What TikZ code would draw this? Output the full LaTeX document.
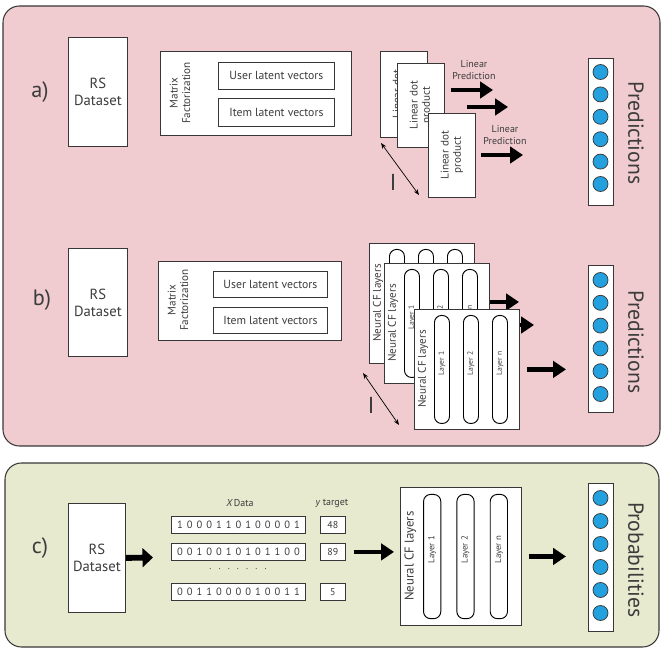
\documentclass[tikz,border=0pt]{standalone}
\usepackage{fontspec}
\setmainfont{PT Sans}
\newfontfamily\barfont{Liberation Sans}
\usetikzlibrary{arrows.meta, calc}

\definecolor{pinkbg}{RGB}{240,203,207}
\definecolor{greenbg}{RGB}{232,234,207}
\definecolor{linec}{RGB}{55,55,55}
\definecolor{textc}{RGB}{60,60,60}
\definecolor{dotc}{RGB}{35,160,222}
\newcommand{\pxu}{0.03cm}

\tikzset{
  panel/.style={draw=linec, line width=0.9pt, rounded corners=14pt},
  box/.style={draw=linec, fill=white, line width=0.7pt, inner sep=0pt, anchor=north west, text=textc, align=center},
  pill/.style={draw=black, fill=white, line width=0.8pt, rounded corners=6pt, inner sep=0pt, anchor=north west},
  dot/.style={circle, draw=linec, fill=dotc, line width=0.6pt, minimum size=15*\pxu, inner sep=0pt},
  bigarrow/.style={line width=3.8pt, -{Triangle[length=11pt, width=14pt]}},
  fatarrow/.style={line width=5pt, -{Triangle[length=9pt, width=16pt]}},
  twoway/.style={line width=0.6pt, {Stealth[length=5pt]}-{Stealth[length=5pt]}},
  partlabel/.style={font=\fontsize{19}{19}\selectfont, text=textc},
  vtext/.style={rotate=90, align=center, text=textc},
  outlabel/.style={rotate=-90, font=\fontsize{18.5}{18.5}\selectfont, text=textc},
  smalltext/.style={font=\fontsize{8.5}{9.5}\selectfont, text=textc, align=center},
  lenlabel/.style={font=\barfont\fontsize{19}{19}\selectfont, text=textc},
}

% neural CF card: name, x, y, size factor
\newcommand{\ncfcard}[4]{%
  \begin{scope}[shift={(#2,#3)}, scale=#4, transform shape]
    \node[box, minimum width=105*\pxu, minimum height=120*\pxu] (#1) at (0,0) {};
    \node[vtext, font=\fontsize{9.5}{9.5}\selectfont] at (9,60) {Neural CF layers};
    \foreach \k/\off/\t in {1/20/1, 2/49/2, 3/78/n} {
      \node[pill, minimum width=15*\pxu, minimum height=108*\pxu] (#1-p\k) at (\off,6) {};
      \node[vtext, font=\fontsize{6.5}{6.5}\selectfont] at ($(#1-p\k)+(0,-6)$) {Layer \t};
    }
  \end{scope}}

\begin{document}
\begin{tikzpicture}[x=\pxu, y=-\pxu]
\useasboundingbox (0,0) rectangle (662,648);

% panels
\draw[panel, fill=pinkbg] (3,6) rectangle (660,446);
\draw[panel, fill=greenbg] (5,463) rectangle (659,647);

%% a)
\node[partlabel] (la) at (40,92) {a)};
\node[box, minimum width=59*\pxu, minimum height=109*\pxu, font=\fontsize{12.5}{14.5}\selectfont] (rsa) at (68,37) {RS\\Dataset};
\node[box, minimum width=191*\pxu, minimum height=84*\pxu] (mfa) at (160,51) {};
\node[vtext, font=\fontsize{9.5}{10.5}\selectfont] at (180,93) {Matrix\\Factorization};
\node[box, minimum width=116*\pxu, minimum height=27*\pxu, font=\fontsize{10}{10}\selectfont] (usera) at (218,62) {User latent vectors};
\node[box, minimum width=116*\pxu, minimum height=28*\pxu, font=\fontsize{10}{10}\selectfont] (itema) at (218,98) {Item latent vectors};

\node[box, minimum width=47*\pxu, minimum height=86*\pxu] (lin1) at (380,51) {};
\node[vtext, font=\fontsize{9.5}{10.5}\selectfont] at (lin1) {Linear dot\\product};
\node[box, minimum width=47*\pxu, minimum height=84*\pxu] (lin2) at (397,63) {};
\node[vtext, font=\fontsize{9.5}{10.5}\selectfont] at (lin2) {Linear dot\\product};
\node[box, minimum width=47*\pxu, minimum height=84*\pxu] (lin3) at (428,113) {};
\node[vtext, font=\fontsize{9.5}{10.5}\selectfont] at (lin3) {Linear dot\\product};

\coordinate (pa1) at (493,90);
\coordinate (pa2) at (508,107);
\coordinate (pa3) at (523,155);
\draw[bigarrow, shorten <=0.18cm] (pa1 -| lin2.east) -- (pa1);
\draw[bigarrow, shorten <=0.66cm] (pa2 -| lin2.east) -- (pa2);
\draw[bigarrow, shorten <=0.15cm] (pa3 -| lin3.east) -- (pa3);
\node[smalltext] at (474,70) {Linear\\Prediction};
\node[smalltext] at (505,135) {Linear\\Prediction};

\coordinate (da1) at (381,143);
\coordinate (da2) at (419,195);
\draw[twoway] (da1) -- (da2);
\node[lenlabel] at (393,182) {l};

\node[box, minimum width=25*\pxu, minimum height=147*\pxu] (preda) at (588,58) {};
\foreach \i in {0,...,5}
  \node[dot] (pa-\i) at (600.5, 72+22.4*\i) {};
\node[outlabel] at (636,133) {Predictions};

%% b)
\node[partlabel] (lb) at (42,300) {b)};
\node[box, minimum width=59*\pxu, minimum height=108*\pxu, font=\fontsize{12.5}{14.5}\selectfont] (rsb) at (68,248) {RS\\Dataset};
\node[box, minimum width=183*\pxu, minimum height=79*\pxu] (mfb) at (158,261) {};
\node[vtext, font=\fontsize{9.5}{10.5}\selectfont] at (178,300) {Matrix\\Factorization};
\node[box, minimum width=114*\pxu, minimum height=26*\pxu, font=\fontsize{10}{10}\selectfont] (userb) at (213,271) {User latent vectors};
\node[box, minimum width=114*\pxu, minimum height=26*\pxu, font=\fontsize{10}{10}\selectfont] (itemb) at (213,307) {Item latent vectors};

\ncfcard{nb1}{369}{243}{1}
\ncfcard{nb2}{384}{263}{1}
\coordinate (pb1) at (519,302);
\draw[bigarrow] (pb1 -| nb2.east) -- (pb1);
\coordinate (pb2) at (534,325);
\draw[bigarrow] (pb2 -| nb2.east) -- (pb2);
\ncfcard{nb3}{414}{309}{1}

\node[box, minimum width=25*\pxu, minimum height=147*\pxu] (predb) at (588,265) {};
\draw[bigarrow, shorten <=0.21cm, shorten >=0.66cm] (nb3.east) -- (nb3.east -| predb.west);

\coordinate (db1) at (363,373);
\coordinate (db2) at (399,425);
\draw[twoway] (db1) -- (db2);
\node[lenlabel] at (371,405) {l};

\foreach \i in {0,...,5}
  \node[dot] (pb-\i) at (600.5, 280+22.8*\i) {};
\node[outlabel] at (636,342) {Predictions};

%% c)
\node[partlabel] (lc) at (40,548) {c)};
\node[box, minimum width=57*\pxu, minimum height=109*\pxu, font=\fontsize{12.5}{14.5}\selectfont] (rsc) at (68,503) {RS\\Dataset};
\coordinate (cin) at (153,557.5);
\draw[fatarrow] (rsc.east) -- (cin);

\node[smalltext] at (240,503) {\itshape X\upshape\,Data};
\node[smalltext] at (332,503) {\itshape y\upshape\ target};
\foreach \r/\y/\bits/\val in {1/516/1000110100001/48, 2/543/0010010101100/89, 3/583/0011000010011/5} {
  \node[box, minimum width=134*\pxu, minimum height=17*\pxu, font=\fontsize{9}{9}\selectfont\addfontfeature{LetterSpace=38}] (data\r) at (171,\y) {\bits};
  \node[box, minimum width=25*\pxu, minimum height=17*\pxu, font=\fontsize{8.5}{9}\selectfont] (tgt\r) at (320,\y) {\val};
}
\node[smalltext, font=\fontsize{8}{8}\selectfont\addfontfeature{LetterSpace=70}] at (238,569) {.......};

\ncfcard{ncfc}{400}{487}{1.15}
\draw[bigarrow, shorten <=0.24cm, shorten >=0.18cm] (tgt2.east) -- (tgt2.east -| ncfc.west);

\node[box, minimum width=25*\pxu, minimum height=148*\pxu] (probc) at (588,483) {};
\draw[bigarrow, shorten <=0.21cm, shorten >=0.66cm] (ncfc.east) -- (ncfc.east -| probc.west);
\foreach \i in {0,...,5}
  \node[dot] (pc-\i) at (600.5, 498+23*\i) {};
\node[outlabel] at (636,560) {Probabilities};

\end{tikzpicture}
\end{document}
